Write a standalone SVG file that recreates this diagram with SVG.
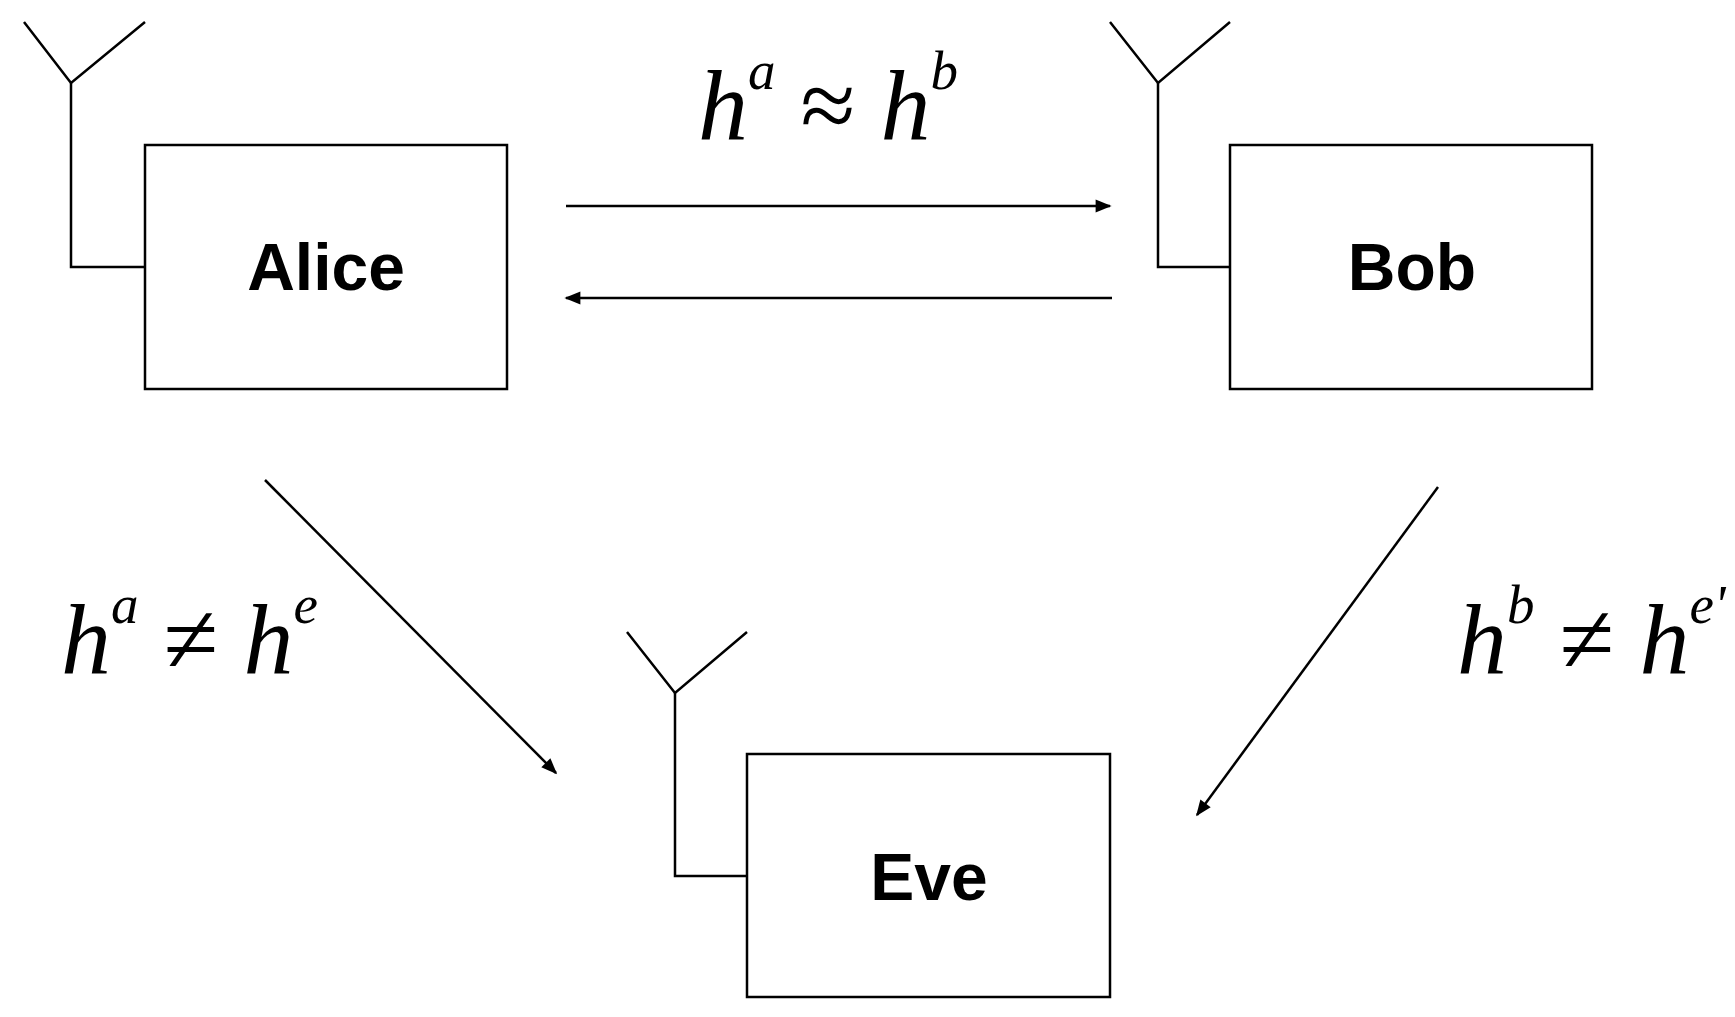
<svg xmlns="http://www.w3.org/2000/svg" width="1735" height="1017" viewBox="0 0 1735 1017">
<style>
.b{fill:#fff;stroke:#000;stroke-width:2.5}
.l{fill:none;stroke:#000;stroke-width:2.5}
.n{font-family:"Liberation Sans",Arial,sans-serif;font-weight:bold;font-size:66px;text-anchor:middle}
.m{font-family:"Liberation Serif","Times New Roman",serif;font-style:italic;font-size:100px}
.s{font-size:55px}
.c{stroke:#000;stroke-width:2.5;fill:none}
</style>
<defs><marker id="A" viewBox="0 0 10 10" refX="9" refY="5" markerWidth="20" markerHeight="16" orient="auto" markerUnits="userSpaceOnUse"><path d="M0,1L10,5L0,9z"/></marker></defs>
<g id="alice"><polyline class="l" points="24,22 71,83 145,22"/><polyline class="l" points="71,83 71,267 145,267"/><rect class="b" x="145" y="145" width="362" height="244"/><text class="n" x="326" y="290">Alice</text></g>
<g id="bob"><polyline class="l" points="1110,22 1158,83 1230,22"/><polyline class="l" points="1158,83 1158,267 1230,267"/><rect class="b" x="1230" y="145" width="362" height="244"/><text class="n" x="1412" y="290">Bob</text></g>
<g id="eve"><polyline class="l" points="627,632 675,693 747,632"/><polyline class="l" points="675,693 675,876 747,876"/><rect class="b" x="747" y="754" width="363" height="243"/><text class="n" x="929" y="900">Eve</text></g>
<g id="connectors">
<line class="c" x1="566" y1="206" x2="1110" y2="206" marker-end="url(#A)"/>
<line class="c" x1="1112" y1="298" x2="566" y2="298" marker-end="url(#A)"/>
<line class="c" x1="265" y1="480" x2="556" y2="773" marker-end="url(#A)"/>
<line class="c" x1="1438" y1="487" x2="1197" y2="815" marker-end="url(#A)"/>
</g>
<g id="labels">
<text class="m" x="698" y="139">h<tspan class="s" dy="-50">a</tspan><tspan dy="50" font-style="normal"> ≈ </tspan>h<tspan class="s" dy="-50">b</tspan></text>
<text class="m" x="61" y="673">h<tspan class="s" dy="-50">a</tspan><tspan dy="50" font-style="normal"> ≠ </tspan>h<tspan class="s" dy="-50">e</tspan></text>
<text class="m" x="1457" y="673">h<tspan class="s" dy="-50">b</tspan><tspan dy="50" font-style="normal"> ≠ </tspan>h<tspan class="s" dy="-50">e'</tspan></text>
</g>
</svg>
